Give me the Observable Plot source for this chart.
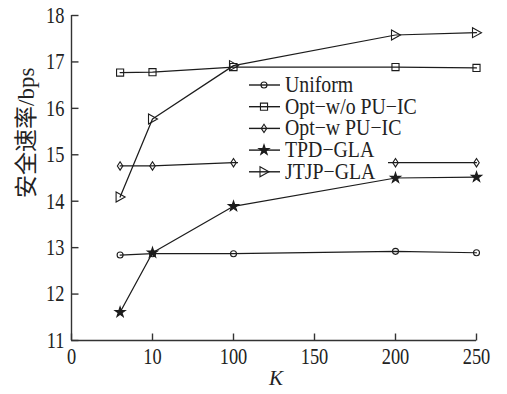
<!DOCTYPE html>
<html><head><meta charset="utf-8">
<script src="https://cdn.jsdelivr.net/npm/d3@7"></script>
<script src="https://cdn.jsdelivr.net/npm/@observablehq/plot@0.6"></script>
<style>
html,body{margin:0;padding:0;background:#fff;}
#wrap{position:relative;width:507px;height:394px;overflow:hidden;}
</style></head><body><div id="wrap"></div>
<script>
// ---- data ----
const series = ["Uniform", "Opt−w/o PU−IC", "Opt−w PU−IC", "TPD−GLA", "JTJP−GLA"];
const kValues = [6, 10, 100, 200, 250];
const uniform = [12.84, 12.87, 12.87, 12.92, 12.89];
const optWoPUIC = [16.77, 16.78, 16.89, 16.89, 16.87];
const optWPUIC = [14.76, 14.76, 14.83, 14.83, 14.83];
const tpdGLA = [11.61, 12.89, 13.89, 14.50, 14.52];
const jtjpGLA = [14.09, 15.77, 16.92, 17.58, 17.63];
const xTicks = [0, 10, 100, 150, 200, 250];
const yTicks = [11, 12, 13, 14, 15, 16, 17, 18];
const xLabel = "K";
const yLabel = "安全速率/bps";

const valuesBySeries = [uniform, optWoPUIC, optWPUIC, tpdGLA, jtjpGLA];
const rows = [];
series.forEach((s, i) => kValues.forEach((k, j) => rows.push({series: s, K: k, v: valuesBySeries[i][j]})));

// ---- layout / style ----
const W = 507, H = 394, ML = 71, MR = 31, MT = 15, MB = 54;
const ink = "#1c1c1c";
const font = "'Liberation Serif', 'Times New Roman', serif";

const triRight = {draw(ctx, size) { const s = Math.sqrt(size / Math.PI); ctx.moveTo(-s * 0.8, -s); ctx.lineTo(s, 0); ctx.lineTo(-s * 0.8, s); ctx.closePath(); }};
const diamondNarrow = {draw(ctx, size) { const s = Math.sqrt(size / Math.PI); ctx.moveTo(0, -s); ctx.lineTo(s * 0.65, 0); ctx.lineTo(0, s); ctx.lineTo(-s * 0.65, 0); ctx.closePath(); }};
const tickUp = {draw(ctx) { ctx.moveTo(0, 0); ctx.lineTo(0, -7); }};
const tickRight = {draw(ctx) { ctx.moveTo(0, 0); ctx.lineTo(7, 0); }};
const markerStyles = [
  {symbol: d3.symbolCircle, r: 3, fill: "none"},
  {symbol: d3.symbolSquare, r: 4, fill: "none"},
  {symbol: diamondNarrow, r: 4.2, fill: "none"},
  {symbol: d3.symbolStar, r: 3.2, fill: ink},
  {symbol: triRight, r: 5, fill: "none"}
];

const xRange = xTicks.map((_, i) => ML + i * (W - ML - MR) / (xTicks.length - 1));

const chart = Plot.plot({
  width: W, height: H,
  marginLeft: ML, marginRight: MR, marginTop: MT, marginBottom: MB,
  style: {fontFamily: font, fontSize: "23px", color: "#222", background: "#fff", overflow: "visible"},
  x: {type: "linear", domain: xTicks, range: xRange},
  y: {domain: [11, 18]},
  marks: [
    Plot.axisX({ticks: xTicks, tickSize: 0, tickPadding: 7, tickFormat: d => String(d), fontSize: 23, label: null}),
    Plot.axisY({ticks: yTicks, tickSize: 0, tickPadding: 7, tickFormat: d => String(d), fontSize: 23, label: null}),
    Plot.ruleY([11], {stroke: "#333", strokeWidth: 1.4}),
    Plot.ruleX([0], {stroke: "#333", strokeWidth: 1.4}),
    Plot.dot(xTicks, {x: d => d, frameAnchor: "bottom", symbol: tickUp, r: 3, stroke: "#333", fill: "none", strokeWidth: 1.4}),
    Plot.dot(yTicks, {y: d => d, frameAnchor: "left", symbol: tickRight, r: 3, stroke: "#333", fill: "none", strokeWidth: 1.4}),
    Plot.line(rows, {x: "K", y: "v", z: "series", stroke: ink, strokeWidth: 1.25}),
    ...series.map((s, i) => Plot.dot(rows.filter(d => d.series === s), {
      x: "K", y: "v", symbol: markerStyles[i].symbol, r: markerStyles[i].r,
      fill: markerStyles[i].fill, stroke: ink, strokeWidth: 1.1
    })),
    Plot.text([yLabel], {frameAnchor: "left", rotate: -90, dx: -45, dy: 20, fontSize: 23, fill: "#222",
      fontFamily: "'Liberation Serif', 'Noto Sans CJK SC', serif", ariaLabel: "ylabel"}),
    Plot.text([xLabel], {frameAnchor: "bottom", dx: 2, dy: 44, fontSize: 21, fontStyle: "italic", fill: "#222"})
  ]
});

// condense the tick labels horizontally (the source font is a narrow serif)
function condense(sel, sx, sy) {
  sel.each(function () {
    const t = d3.select(this);
    const tr = t.attr("transform") || "";
    t.attr("transform", tr + ` scale(${sx},${sy})`);
  });
}
condense(d3.select(chart).selectAll('g[aria-label$="tick label"] text'), 0.8, 1);
condense(d3.select(chart).selectAll('g[aria-label="ylabel"] text'), 1, 0.82);

const wrap = document.getElementById("wrap");
wrap.appendChild(chart);

// ---- legend (inside the plot, white box) ----
const leg = d3.create("svg").attr("width", 200).attr("height", 120)
  .style("position", "absolute").style("left", "238px").style("top", "70px").style("overflow", "visible");
leg.append("rect").attr("x", 0).attr("y", 5).attr("width", 150).attr("height", 102).attr("fill", "#fff");
series.forEach((s, i) => {
  const g = leg.append("g").attr("transform", `translate(0,${15 + i * 21.7})`);
  g.append("line").attr("x1", 11).attr("x2", 42).attr("y1", 0).attr("y2", 0).attr("stroke", ink).attr("stroke-width", 1.4);
  const m = markerStyles[i];
  g.append("path").attr("d", d3.symbol(m.symbol, m.r * m.r * Math.PI)()).attr("transform", "translate(26,0)")
    .attr("fill", m.fill).attr("stroke", ink).attr("stroke-width", 1.1);
  g.append("text").attr("transform", "translate(47,7) scale(0.88,1)").attr("font-family", font)
    .attr("font-size", 22.5).attr("fill", "#222").text(s);
});
wrap.appendChild(leg.node());
</script>
</body></html>
